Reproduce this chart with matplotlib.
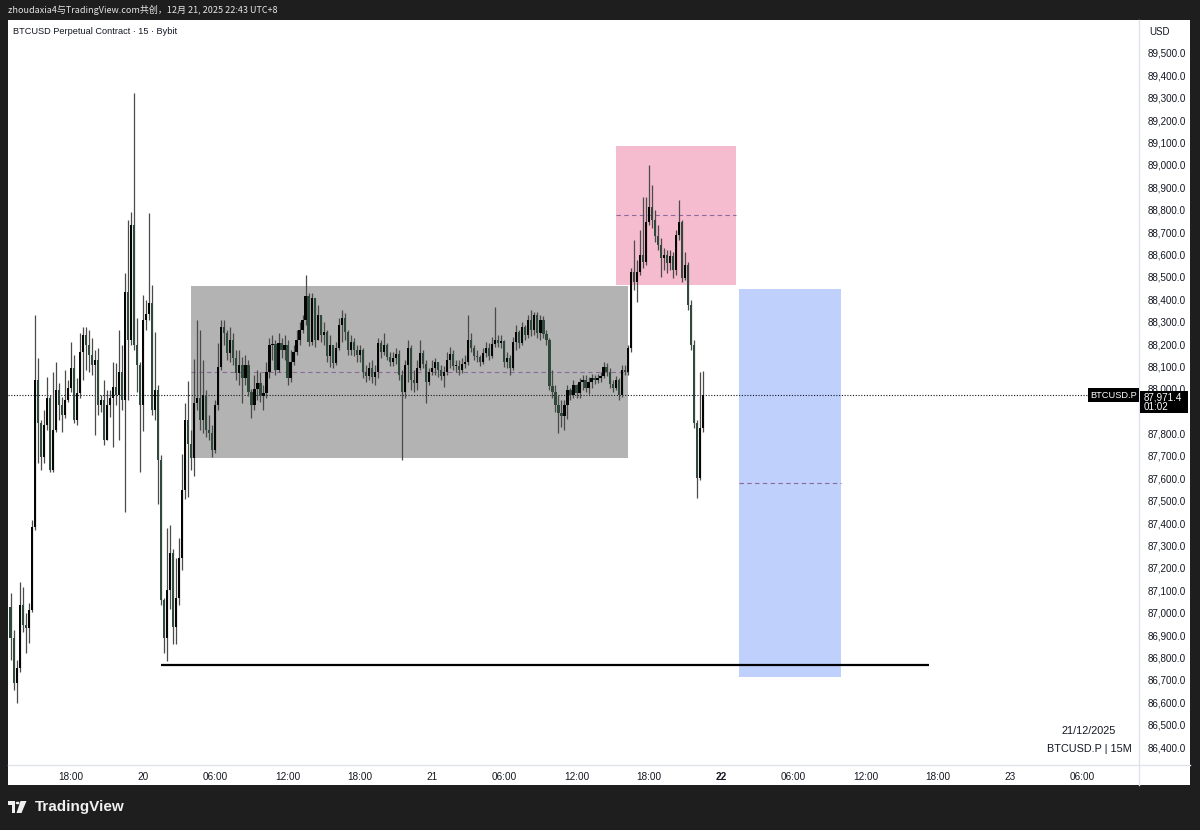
import matplotlib
matplotlib.use('Agg')
import matplotlib.pyplot as plt
import matplotlib.dates as mdates
from matplotlib.patches import Rectangle, Polygon, Circle
from matplotlib.lines import Line2D
import pandas as pd

plt.rcParams['font.family'] = ['Liberation Sans', 'DejaVu Sans']

# BTCUSD.P 15m candles, 19/12 13:00 -> 21/12 22:30 (UTC+8)
start_time = '2025-12-19 13:00'
first_open = 87027
close = [
    86888, 86687, 86754, 87036, 86946, 86932, 87013, 87384, 88040, 87848,
    87696, 87839, 87959, 87638, 87817, 87995, 87929, 87884, 87951, 88004,
    88093, 87861, 87982, 88165, 88241, 88196, 88152, 88107, 88129, 87929,
    87951, 87772, 87929, 87959, 88009, 87973, 88076, 87951, 88433, 88219,
    88733, 88196, 88107, 87929, 88308, 88335, 88384, 87906, 87995, 87683,
    87058, 86888, 87102, 87268, 86937, 87067, 87245, 87549, 87861, 87754,
    87692, 87937, 87959, 87861, 87973, 87817, 87803, 87727, 87929, 88098,
    88276, 88250, 88161, 88219, 88138, 88072, 88107, 88049, 88107, 87986,
    87929, 88000, 88027, 87968, 87982, 88076, 88196, 88201, 88085, 88205,
    88174, 88196, 88049, 88120, 88165, 88219, 88263, 88308, 88415, 88210,
    88406, 88219, 88330, 88241, 88254, 88147, 88196, 88116, 88183, 88286,
    88317, 88254, 88174, 88210, 88174, 88152, 88174, 88076, 88058, 88094,
    88054, 88076, 88205, 88165, 88196, 88143, 88120, 88138, 88156, 88063,
    87986, 88107, 88183, 88040, 88027, 88094, 88161, 88112, 88031, 88076,
    88094, 88120, 88085, 88058, 88076, 88129, 88156, 88103, 88103, 88085,
    88112, 88120, 88219, 88183, 88147, 88143, 88120, 88161, 88183, 88147,
    88201, 88219, 88205, 88214, 88120, 88138, 88094, 88210, 88254, 88205,
    88276, 88241, 88308, 88263, 88330, 88250, 88308, 88245, 88219, 88013,
    87986, 87929, 87893, 87879, 87929, 87995, 87973, 88018, 87982, 88031,
    88040, 88004, 88031, 88049, 88040, 88049, 88058, 88098, 88076, 88022,
    88004, 88040, 87973, 88085, 88076, 88183, 88522, 88478, 88522, 88598,
    88567, 88746, 88813, 88755, 88683, 88643, 88585, 88598, 88562, 88594,
    88531, 88688, 88746, 88496, 88553, 88375, 88196, 87848, 87602, 87826,
    87971.4,
]
high = [
    87089, 86924, 86790, 87138, 87116, 87000, 87045, 87415, 88330, 88138,
    87861, 87906, 88054, 87973, 88076, 88120, 88027, 87964, 88085, 88040,
    88210, 88152, 88049, 88250, 88276, 88276, 88263, 88228, 88174, 88183,
    87973, 88040, 87995, 87995, 88120, 88116, 88263, 88196, 88518, 88755,
    88790, 89322, 88317, 88120, 88420, 88397, 88786, 88464, 88254, 88018,
    87705, 87067, 87379, 87393, 87286, 87245, 87334, 87710, 87937, 88036,
    87817, 88133, 88308, 88263, 88129, 87995, 87884, 87839, 87951, 88205,
    88308, 88308, 88263, 88276, 88250, 88174, 88174, 88143, 88152, 88129,
    88000, 88063, 88085, 88076, 88018, 88120, 88228, 88241, 88219, 88250,
    88228, 88241, 88219, 88174, 88196, 88263, 88299, 88330, 88509, 88429,
    88429, 88397, 88375, 88330, 88299, 88263, 88241, 88196, 88210, 88317,
    88353, 88339, 88263, 88241, 88228, 88196, 88196, 88183, 88107, 88120,
    88129, 88107, 88228, 88219, 88250, 88205, 88165, 88165, 88183, 88174,
    88085, 88129, 88219, 88196, 88085, 88129, 88219, 88174, 88129, 88094,
    88129, 88138, 88120, 88107, 88103, 88165, 88187, 88174, 88129, 88129,
    88138, 88152, 88330, 88250, 88196, 88174, 88152, 88183, 88210, 88205,
    88232, 88366, 88241, 88241, 88219, 88165, 88152, 88232, 88286, 88263,
    88299, 88286, 88330, 88353, 88344, 88344, 88330, 88326, 88263, 88228,
    88085, 88018, 87973, 87951, 87951, 88018, 88004, 88040, 88022, 88049,
    88063, 88063, 88054, 88067, 88063, 88067, 88076, 88120, 88116, 88094,
    88040, 88058, 88049, 88107, 88107, 88196, 88540, 88665, 88576, 88710,
    88857, 88857, 89000, 88911, 88799, 88733, 88674, 88630, 88621, 88621,
    88612, 88710, 88844, 88755, 88612, 88567, 88397, 88219, 87861, 88076,
    88080,
]
low = [
    86790, 86656, 86598, 86736, 86915, 86821, 86866, 87004, 87370, 87670,
    87638, 87670, 87817, 87629, 87629, 87808, 87861, 87808, 87870, 87942,
    87986, 87848, 87839, 87959, 88040, 88085, 88076, 88063, 87795, 87884,
    87897, 87750, 87808, 87875, 87741, 87929, 87772, 87906, 87451, 87951,
    88196, 88174, 87986, 87629, 87812, 88263, 88308, 87884, 87861, 87486,
    87036, 86821, 86785, 87018, 86861, 86861, 87036, 87192, 87509, 87518,
    87638, 87611, 87906, 87817, 87803, 87785, 87772, 87696, 87714, 87906,
    88085, 88196, 88129, 88120, 88107, 88040, 88018, 87937, 88018, 87968,
    87870, 87906, 87951, 87942, 87906, 87959, 88049, 88129, 88063, 88076,
    88138, 88129, 88018, 88031, 88107, 88152, 88196, 88250, 88286, 88192,
    88196, 88187, 88241, 88210, 88196, 88120, 88098, 88094, 88107, 88174,
    88210, 88219, 88152, 88152, 88147, 88120, 88120, 88049, 88031, 88040,
    88027, 88018, 88049, 88138, 88152, 88129, 88103, 88103, 88112, 88040,
    87683, 87959, 88031, 87995, 87986, 87995, 88085, 88094, 87937, 88018,
    88063, 88063, 88054, 88040, 88009, 88063, 88094, 88085, 88076, 88063,
    88072, 88094, 88107, 88165, 88129, 88120, 88103, 88112, 88143, 88129,
    88138, 88187, 88187, 88183, 88098, 88094, 88063, 88085, 88174, 88183,
    88196, 88219, 88228, 88237, 88241, 88228, 88219, 88228, 88196, 87995,
    87959, 87897, 87803, 87830, 87817, 87866, 87951, 87959, 87959, 87959,
    87995, 87986, 87977, 88004, 88022, 88027, 88031, 88049, 88058, 88004,
    87986, 87995, 87951, 87964, 88063, 88063, 88165, 88442, 88389, 88509,
    88540, 88553, 88733, 88719, 88656, 88621, 88500, 88531, 88518, 88531,
    88496, 88509, 88665, 88478, 88487, 88353, 88174, 87826, 87513, 87593,
    87808,
]

# drawings on the chart
range_box = ('2025-12-20 04:00', '2025-12-21 16:15', 87691, 88459)
supply_box = ('2025-12-21 15:15', '2025-12-22 01:15', 88464, 89085)
target_box = ('2025-12-22 01:30', '2025-12-22 10:00', 86713, 88446)
low_line = ('2025-12-20 01:30', '2025-12-22 17:15', 86766)

tick_times = ['2025-12-19 18:00', '2025-12-20 00:00', '2025-12-20 06:00', '2025-12-20 12:00',
              '2025-12-20 18:00', '2025-12-21 00:00', '2025-12-21 06:00', '2025-12-21 12:00',
              '2025-12-21 18:00', '2025-12-22 00:00', '2025-12-22 06:00', '2025-12-22 12:00',
              '2025-12-22 18:00', '2025-12-23 00:00', '2025-12-23 06:00']
tick_labels = ['18:00', '20', '06:00', '12:00', '18:00', '21', '06:00', '12:00',
               '18:00', '22', '06:00', '12:00', '18:00', '23', '06:00']
price_ticks = list(range(86400, 89600, 100))

W, H = 1200, 830
TXT = '#131722'


def fx(px):
    return px / W


def fy(py):
    return 1 - py / H


def dnum(s):
    return mdates.date2num(pd.Timestamp(s).to_pydatetime())


fig = plt.figure(figsize=(12, 8.3), dpi=100, facecolor='#1e1e1e')
fig.add_artist(Rectangle((fx(8), fy(785)), fx(1190) - fx(8), fy(20) - fy(785),
                         transform=fig.transFigure, fc='white', ec='none', zorder=-2))

ax = fig.add_axes([fx(8), fy(765), fx(1139) - fx(8), fy(20) - fy(765)])
ax.set_facecolor('white')
ax.set_xlim(dnum('2025-12-19 12:47'), dnum('2025-12-23 10:43'))
ax.set_ylim(86320, 89647)

# zones
for (t0, t1, lo, hi), col in [(range_box, '#b3b3b3'), (supply_box, '#f5bbcf'), (target_box, '#bed0fb')]:
    x0, x1 = dnum(t0), dnum(t1)
    ax.add_patch(Rectangle((x0, lo), x1 - x0, hi - lo, fc=col, ec='none', zorder=1))
    ax.hlines((lo + hi) / 2, x0, x1, colors='#8c6a9c', linestyles=(0, (4, 3)), lw=0.8, zorder=1.5)

ax.hlines(low_line[2], dnum(low_line[0]), dnum(low_line[1]), colors='black', lw=1.6, zorder=2)

# candles
times = pd.date_range(start_time, periods=len(close), freq='15min')
x = mdates.date2num(times.to_pydatetime())
opens = [first_open] + close[:-1]
bw = 0.74 / 96
for xi, o, h, l, c in zip(x, opens, high, low, close):
    up = c >= o
    col = '#050505' if up else '#2f4a3a'
    ax.vlines(xi, min(l, o, c), max(h, o, c), color='#4a4a4a', lw=0.9, zorder=3)
    ax.bar(xi, max(abs(c - o), 3), bottom=min(o, c), width=bw, color=col, lw=0, zorder=4)

last = close[-1]
ax.axhline(last, color=TXT, lw=0.8, ls=(0, (1, 1.5)), zorder=2)

# axes styling
for s in ax.spines.values():
    s.set_visible(False)
ax.yaxis.tick_right()
ax.set_yticks(price_ticks)
ax.set_yticklabels([f'{p:,.1f}' for p in price_ticks], fontsize=7.1, color=TXT)
ax.set_xticks([dnum(t) for t in tick_times])
ax.set_xticklabels(tick_labels, fontsize=7.2, color=TXT)
for lab in ax.get_xticklabels():
    if lab.get_text() == '22':
        lab.set_fontweight('bold')
# the last-price tag covers this label in the original
for lab, p in zip(ax.get_yticklabels(), price_ticks):
    if p == 87900:
        lab.set_visible(False)
ax.tick_params(axis='y', length=0, pad=6)
ax.tick_params(axis='x', length=0, pad=5)

# separators
fig.add_artist(Line2D([fx(8), fx(1190)], [fy(765), fy(765)], transform=fig.transFigure, color='#e0e3eb', lw=1))
fig.add_artist(Line2D([fx(1139), fx(1139)], [fy(20), fy(785)], transform=fig.transFigure, color='#e0e3eb', lw=1))

# last price labels
y_last = H - ax.transData.transform((0, last))[1]
fig.add_artist(Rectangle((fx(1088), fy(y_last + 7)), fx(1139) - fx(1088), fy(y_last - 7) - fy(y_last + 7),
                         transform=fig.transFigure, fc='black', ec='none', zorder=5))
fig.text(fx(1113.5), fy(y_last), 'BTCUSD.P', color='white', fontsize=6.7, ha='center', va='center', zorder=6)
fig.add_artist(Rectangle((fx(1140), fy(y_last + 18)), fx(1188) - fx(1140), fy(y_last - 4) - fy(y_last + 18),
                         transform=fig.transFigure, fc='black', ec='none', zorder=5))
fig.text(fx(1144), fy(y_last + 2.5), f'{last:,.1f}', color='white', fontsize=7.1, ha='left', va='center', zorder=6)
fig.text(fx(1144), fy(y_last + 12), '01:02', color='white', fontsize=7.1, ha='left', va='center', zorder=6)

# texts
fig.text(fx(8), fy(10), 'zhoudaxia4与TradingView.com共创，12月 21, 2025 22:43 UTC+8', color='#e6e6e6',
         fontsize=6.5, ha='left', va='center', family=['Noto Sans CJK SC', 'DejaVu Sans'])
fig.text(fx(13), fy(31), 'BTCUSD Perpetual Contract · 15 · Bybit', color=TXT, fontsize=6.6, ha='left', va='center')
fig.text(fx(1149), fy(32), 'USD', color=TXT, fontsize=7, ha='left', va='center')
fig.text(fx(1089), fy(731), '21/12/2025', color=TXT, fontsize=7.8, ha='center', va='center')
fig.text(fx(1089), fy(749), 'BTCUSD.P | 15M', color=TXT, fontsize=7.8, ha='center', va='center')

# TradingView logo
lc = '#f0f0f0'
fig.add_artist(Polygon([(fx(8), fy(801)), (fx(15), fy(801)), (fx(15), fy(813)), (fx(11.5), fy(813)),
                        (fx(11.5), fy(804.5)), (fx(8), fy(804.5))], closed=True,
                       transform=fig.transFigure, fc=lc, ec='none'))
fig.add_artist(Circle((fx(17.6), fy(803)), 1.9 / W, transform=fig.transFigure, fc=lc, ec='none'))
fig.add_artist(Polygon([(fx(20.5), fy(801)), (fx(26.5), fy(801)), (fx(21.5), fy(813)), (fx(16.5), fy(813))],
                       closed=True, transform=fig.transFigure, fc=lc, ec='none'))
fig.text(fx(35), fy(807), 'TradingView', color=lc, fontsize=11, fontweight='bold', ha='left', va='center')

plt.savefig('out.png', dpi=100, facecolor=fig.get_facecolor())
